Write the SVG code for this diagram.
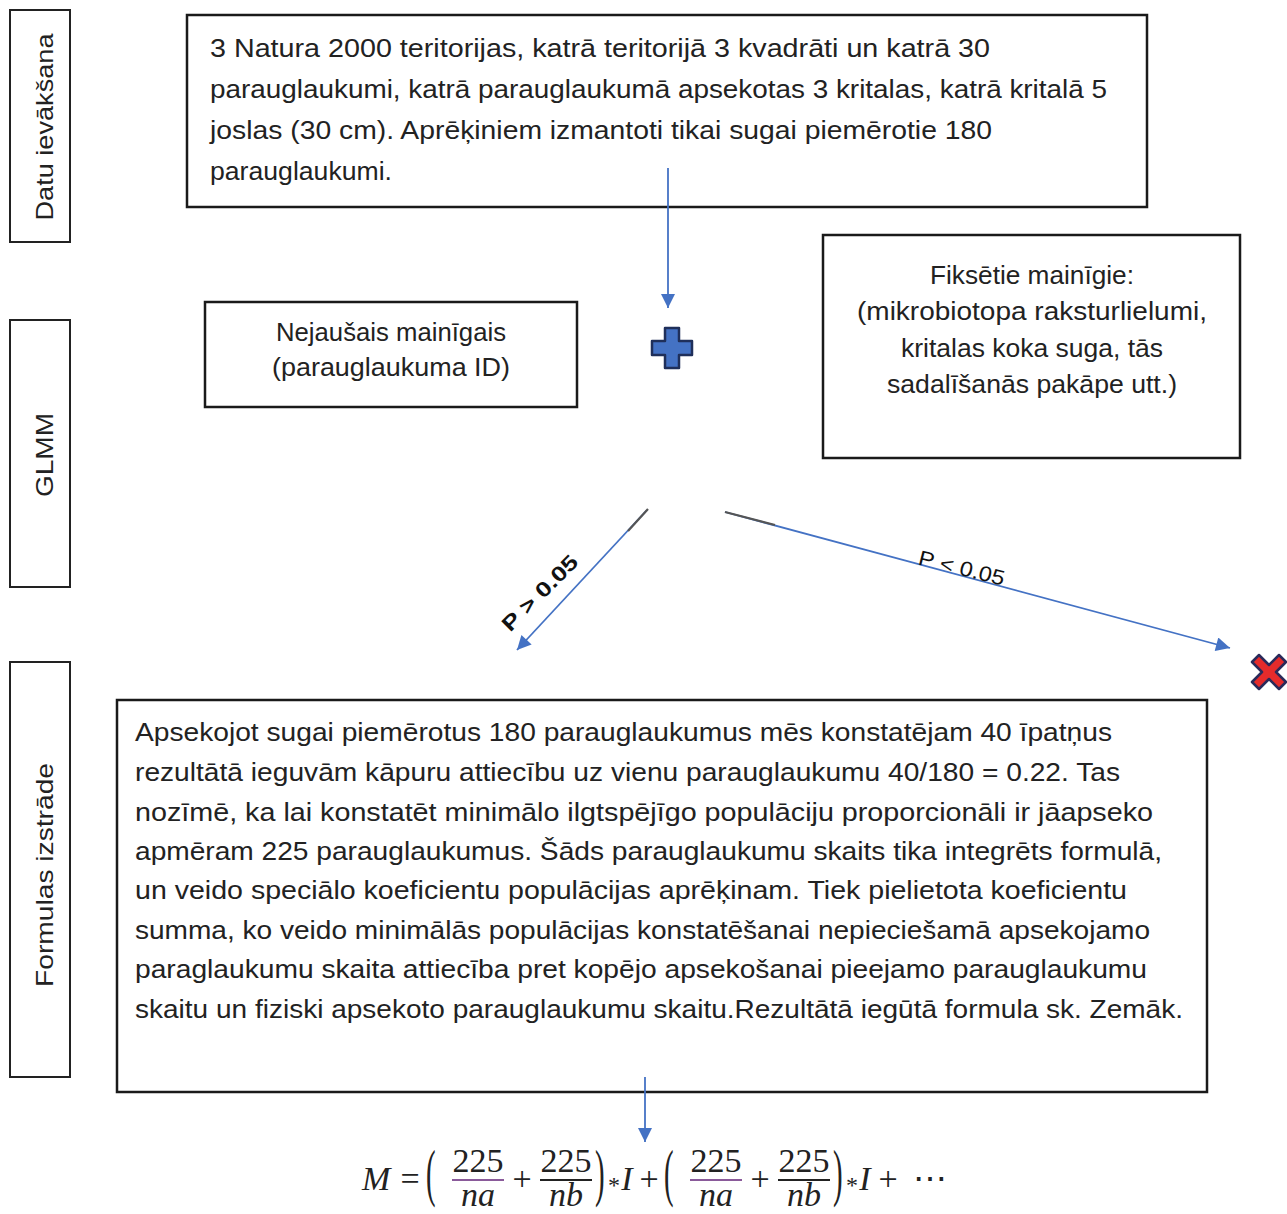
<svg xmlns="http://www.w3.org/2000/svg" width="1287" height="1214" viewBox="0 0 1287 1214">
<style>
.box{fill:#fff;stroke:#1a1a1a;stroke-width:2.5}
.side{fill:#fff;stroke:#222;stroke-width:2}
.t{font-family:"Liberation Sans",Arial,sans-serif;font-size:26px;fill:#222}
.s{font-family:"Liberation Sans",Arial,sans-serif;font-size:24px;fill:#222}
.lbl{font-family:"Liberation Sans",Arial,sans-serif;font-size:21px;fill:#111}
.arrow{stroke:#4472C4;stroke-width:1.8;fill:none;marker-end:url(#ah)}
.dark{stroke:#555;stroke-width:2.2;fill:none}
.m{font-family:"Liberation Serif","DejaVu Serif",serif;font-size:34px;fill:#222}
.mi{font-style:italic}
.paren{font-size:64px}
.ast{font-size:24px}
.c{text-anchor:middle}
.barp{stroke:#8a5a9a;stroke-width:1.8}
.barb{stroke:#222;stroke-width:1.8}
</style>
<defs>
<marker id="ah" viewBox="0 0 10 10" refX="10" refY="5" markerWidth="17" markerHeight="14" markerUnits="userSpaceOnUse" orient="auto">
<path d="M0,0 L10,5 L0,10 z" fill="#4472C4"/>
</marker>
</defs>
<rect width="1287" height="1214" fill="#fff"/>

<g id="side-datu">
<rect class="side" x="10" y="10" width="60" height="232"/>
<text class="s c" transform="translate(53,127) rotate(-90)" textLength="187" lengthAdjust="spacingAndGlyphs">Datu ievākšana</text>
</g>
<g id="side-glmm">
<rect class="side" x="10" y="320" width="60" height="267"/>
<text class="s c" transform="translate(53,455) rotate(-90)" textLength="84" lengthAdjust="spacingAndGlyphs">GLMM</text>
</g>
<g id="side-formulas">
<rect class="side" x="10" y="662" width="60" height="415"/>
<text class="s c" transform="translate(53,875) rotate(-90)" textLength="224" lengthAdjust="spacingAndGlyphs">Formulas izstrāde</text>
</g>

<g id="data-box">
<rect class="box" x="187" y="15" width="960" height="192"/>
<text class="t" x="210" y="57" textLength="780" lengthAdjust="spacingAndGlyphs">3 Natura 2000 teritorijas, katrā teritorijā 3 kvadrāti un katrā 30</text>
<text class="t" x="210" y="98" textLength="897" lengthAdjust="spacingAndGlyphs">parauglaukumi, katrā parauglaukumā apsekotas 3 kritalas, katrā kritalā 5</text>
<text class="t" x="210" y="139" textLength="782" lengthAdjust="spacingAndGlyphs">joslas (30 cm). Aprēķiniem izmantoti tikai sugai piemērotie 180</text>
<text class="t" x="210" y="180" textLength="182" lengthAdjust="spacingAndGlyphs">parauglaukumi.</text>
</g>

<g id="random-box">
<rect class="box" x="205" y="302" width="372" height="105"/>
<text class="t c" x="391" y="341" textLength="230" lengthAdjust="spacingAndGlyphs">Nejaušais mainīgais</text>
<text class="t c" x="391" y="376" textLength="238" lengthAdjust="spacingAndGlyphs">(parauglaukuma ID)</text>
</g>

<g id="plus">
<path d="M665,328 L679,328 L679,341 L692,341 L692,355 L679,355 L679,368 L665,368 L665,355 L652,355 L652,341 L665,341 Z" fill="#4472C4" stroke="#1F2F5A" stroke-width="2.5" stroke-linejoin="round"/>
</g>

<g id="fixed-box">
<rect class="box" x="823" y="235" width="417" height="223"/>
<text class="t c" x="1032" y="284" textLength="204" lengthAdjust="spacingAndGlyphs">Fiksētie mainīgie:</text>
<text class="t c" x="1032" y="320" textLength="350" lengthAdjust="spacingAndGlyphs">(mikrobiotopa raksturlielumi,</text>
<text class="t c" x="1032" y="357" textLength="262" lengthAdjust="spacingAndGlyphs">kritalas koka suga, tās</text>
<text class="t c" x="1032" y="393" textLength="290" lengthAdjust="spacingAndGlyphs">sadalīšanās pakāpe utt.)</text>
</g>

<g id="reject">
<path d="M0,-7 L10,-17 L17,-10 L7,0 L17,10 L10,17 L0,7 L-10,17 L-17,10 L-7,0 L-17,-10 L-10,-17 Z" transform="translate(1269,672)" fill="#E52B2B" stroke="#2A2A5A" stroke-width="2.5" stroke-linejoin="round"/>
</g>

<g id="formula-box">
<rect class="box" x="117" y="700" width="1090" height="392"/>
<text class="t" x="135" y="741" textLength="977" lengthAdjust="spacingAndGlyphs">Apsekojot sugai piemērotus 180 parauglaukumus mēs konstatējam 40 īpatņus</text>
<text class="t" x="135" y="781" textLength="985" lengthAdjust="spacingAndGlyphs">rezultātā ieguvām kāpuru attiecību uz vienu parauglaukumu 40/180 = 0.22. Tas</text>
<text class="t" x="135" y="821" textLength="1018" lengthAdjust="spacingAndGlyphs">nozīmē, ka lai konstatēt minimālo ilgtspējīgo populāciju proporcionāli ir  jāapseko</text>
<text class="t" x="135" y="860" textLength="1027" lengthAdjust="spacingAndGlyphs">apmēram 225 parauglaukumus. Šāds parauglaukumu skaits tika integrēts formulā,</text>
<text class="t" x="135" y="899" textLength="992" lengthAdjust="spacingAndGlyphs">un veido speciālo koeficientu populācijas aprēķinam. Tiek pielietota koeficientu</text>
<text class="t" x="135" y="939" textLength="1015" lengthAdjust="spacingAndGlyphs">summa, ko veido minimālās populācijas konstatēšanai nepieciešamā apsekojamo</text>
<text class="t" x="135" y="978" textLength="1012" lengthAdjust="spacingAndGlyphs">paraglaukumu skaita attiecība pret kopējo apsekošanai pieejamo parauglaukumu</text>
<text class="t" x="135" y="1018" textLength="1048" lengthAdjust="spacingAndGlyphs">skaitu un fiziski apsekoto parauglaukumu skaitu.Rezultātā iegūtā formula sk. Zemāk.</text>
</g>

<g id="formula">
<text class="m mi" x="362" y="1190">M</text>
<text class="m c" x="410" y="1190">=</text>
<text class="m paren" transform="translate(426,1194) scale(0.45,1)">(</text>
<text class="m c" x="478" y="1172">225</text>
<line class="barp" x1="452" y1="1180" x2="504" y2="1180"/>
<text class="m mi c" x="478" y="1206">na</text>
<text class="m c" x="522" y="1190">+</text>
<text class="m c" x="566" y="1172">225</text>
<line class="barb" x1="540" y1="1180" x2="592" y2="1180"/>
<text class="m mi c" x="566" y="1206">nb</text>
<text class="m paren" transform="translate(595,1194) scale(0.45,1)">)</text>
<text class="m ast c" x="614" y="1193">*</text>
<text class="m mi c" x="627" y="1190">I</text>
<text class="m c" x="649" y="1190">+</text>
<text class="m paren" transform="translate(664,1194) scale(0.45,1)">(</text>
<text class="m c" x="716" y="1172">225</text>
<line class="barp" x1="690" y1="1180" x2="742" y2="1180"/>
<text class="m mi c" x="716" y="1206">na</text>
<text class="m c" x="760" y="1190">+</text>
<text class="m c" x="804" y="1172">225</text>
<line class="barb" x1="778" y1="1180" x2="830" y2="1180"/>
<text class="m mi c" x="804" y="1206">nb</text>
<text class="m paren" transform="translate(833,1194) scale(0.45,1)">)</text>
<text class="m ast c" x="852" y="1193">*</text>
<text class="m mi c" x="865" y="1190">I</text>
<text class="m c" x="888" y="1190">+</text>
<text class="m c" x="930" y="1190">⋯</text>
</g>

<g id="connectors">
<line class="arrow" x1="668" y1="168" x2="668" y2="308"/>
<line class="arrow" x1="647" y1="510" x2="517" y2="650"/>
<line class="dark" x1="648" y1="509" x2="628" y2="531"/>
<line class="arrow" x1="725" y1="512" x2="1230" y2="648"/>
<line class="dark" x1="725" y1="512" x2="775" y2="525"/>
<line class="arrow" x1="645" y1="1077" x2="645" y2="1142"/>
<text class="lbl c" font-weight="bold" transform="translate(545,598) rotate(-45)" textLength="98" lengthAdjust="spacingAndGlyphs">P &gt; 0.05</text>
<text class="lbl c" transform="translate(960,575) rotate(14)" textLength="88" lengthAdjust="spacingAndGlyphs">P &lt; 0.05</text>
</g>
</svg>
